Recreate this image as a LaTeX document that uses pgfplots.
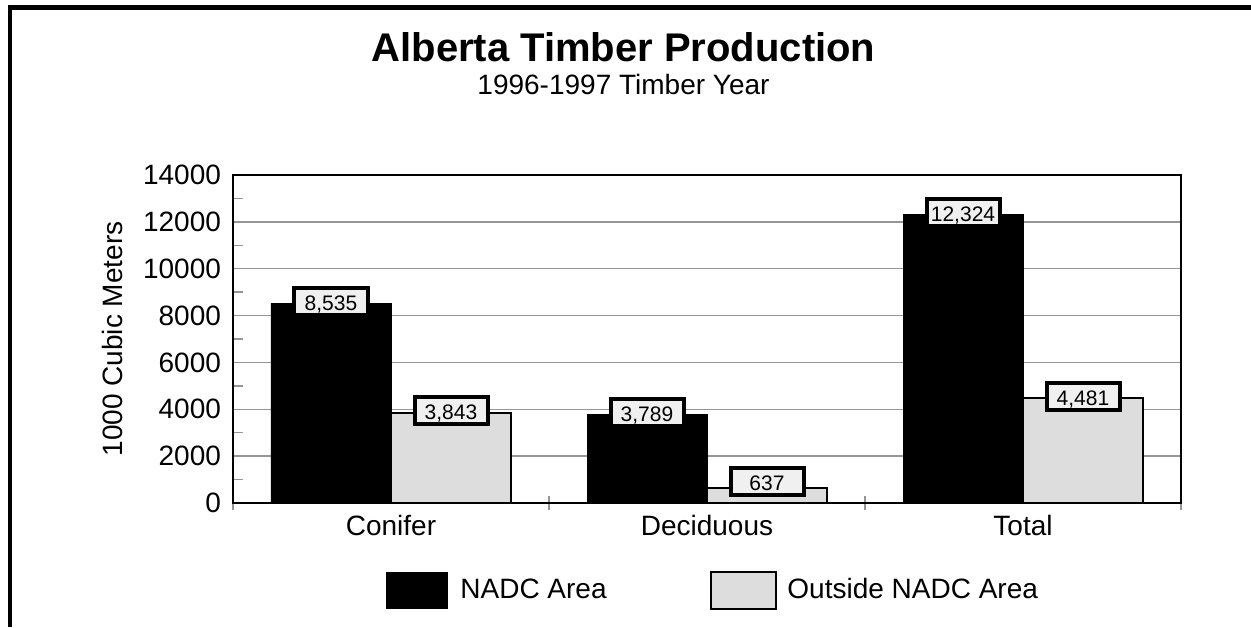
\documentclass[border=0pt]{standalone}
\usepackage{fontspec}
\setmainfont{Liberation Sans}
\usepackage{pgfplots}
\usepackage{pgfplotstable}
\pgfplotsset{compat=1.18}

\definecolor{lightbar}{RGB}{221,221,221}
\definecolor{boxfill}{RGB}{240,240,240}
\definecolor{gridgray}{RGB}{150,150,150}

\pgfplotstableread{
x y
0 8535
1 3789
2 12324
}\nadc

\pgfplotstableread{
x y
0 3843
1 637
2 4481
}\outside

\begin{document}
\begin{tikzpicture}
% page size: 1 px = 0.5pt, axis box lower-left at (0,0)
\path[use as bounding box] (-116.5pt,-62pt) rectangle (509pt,251.5pt);

\begin{axis}[
    at={(0,0)}, anchor=south west,
    scale only axis,
    width=474pt, height=164pt,
    ybar,
    bar width=60pt,
    xmin=-0.5, xmax=2.5,
    ymin=0, ymax=14000,
    enlargelimits=false,
    /pgf/number format/assume math mode=true,
    xtick={-0.5,0.5,1.5,2.5},
    xticklabels={},
    xtick align=center,
    extra x ticks={0,1,2},
    extra x tick labels={Conifer,Deciduous,Total},
    extra x tick style={major tick length=0pt, grid=none},
    xticklabel style={yshift=-2.5pt},
    ytick={0,2000,...,14000},
    minor y tick num=1,
    ytick align=inside,
    xtick pos=left, ytick pos=left,
    major tick length=7pt,
    minor tick length=5pt,
    tick style={gridgray, line width=0.75pt},
    scaled y ticks=false,
    yticklabel style={/pgf/number format/1000 sep={}, xshift=-2.5pt},
    tick label style={font=\fontsize{14}{16}\selectfont},
    ymajorgrids,
    major grid style={gridgray, line width=0.75pt},
    axis line style={black, line width=1pt},
    ylabel={1000 Cubic Meters},
    ylabel style={at={(axis description cs:-0.1276,0.5)}, anchor=center,
        font=\fontsize{14}{16}\selectfont},
    visualization depends on={y \as \rawy},
    every node near coord/.append style={
        anchor=center,
        yshift={max(1,10.75-\rawy/1000*11.714)*1pt},
        draw=black, line width=2pt, fill=boxfill,
        minimum width=36.5pt, minimum height=13.5pt, inner sep=1pt,
        text height=9pt, text depth=0pt,
        font=\fontsize{10.5}{12}\selectfont},
    nodes near coords={\pgfmathprintnumber[1000 sep={,}]{\pgfplotspointmeta}},
]
\addplot[fill=black, draw=black, bar shift=-30pt] table[x=x,y=y]{\nadc};
\addplot[fill=lightbar, draw=black, line width=0.75pt, bar shift=30pt] table[x=x,y=y]{\outside};
\end{axis}

% titles
\node[anchor=base, inner sep=0pt, font=\fontsize{20}{24}\bfseries] at (195.25pt,220.5pt) {Alberta Timber Production};
\node[anchor=base, inner sep=0pt, font=\fontsize{14}{16}\selectfont] at (195.25pt,204pt) {1996-1997 Timber Year};

% legend
\fill[black] (76.5pt,-34.5pt) rectangle (107.5pt,-53pt);
\node[anchor=base west, inner sep=0pt, font=\fontsize{14}{16}\selectfont] at (113.5pt,-47.5pt) {NADC Area};
\filldraw[fill=lightbar, draw=black, line width=0.75pt] (239pt,-34.5pt) rectangle (271.5pt,-53pt);
\node[anchor=base west, inner sep=0pt, font=\fontsize{14}{16}\selectfont] at (277pt,-47.5pt) {Outside NADC Area};

% outer frame (top and left only)
\draw[line width=2.25pt] (-112.5pt,247.75pt) -- (509pt,247.75pt);
\draw[line width=2.25pt] (-111.5pt,248.85pt) -- (-111.5pt,-62pt);
\end{tikzpicture}
\end{document}
